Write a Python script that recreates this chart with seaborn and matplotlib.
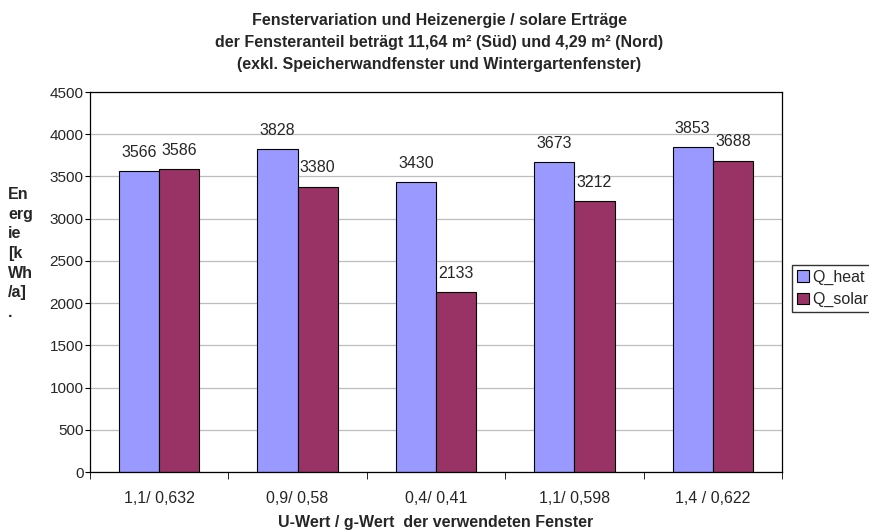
import matplotlib
matplotlib.use("Agg")
import matplotlib.pyplot as plt
import seaborn as sns
import pandas as pd

categories = ["1,1/ 0,632", "0,9/ 0,58", "0,4/ 0,41", "1,1/ 0,598", "1,4 / 0,622"]
q_heat = [3566, 3828, 3430, 3673, 3853]
q_solar = [3586, 3380, 2133, 3212, 3688]
series = ["Q_heat", "Q_solar"]
colors = ["#9999FF", "#993366"]

df = pd.DataFrame({
    "cat": categories * 2,
    "val": q_heat + q_solar,
    "series": [series[0]] * len(categories) + [series[1]] * len(categories),
})

sns.set_style("white")
plt.rcParams["font.family"] = ["Liberation Sans", "DejaVu Sans"]

fig = plt.figure(figsize=(8.7, 5.31), dpi=100)
L, R, T, B = 90, 782, 92, 472
ax = fig.add_axes([L / 870, 1 - B / 531, (R - L) / 870, (B - T) / 531])

sns.barplot(data=df, x="cat", y="val", hue="series", palette=colors,
            order=categories, hue_order=series, width=0.58,
            edgecolor="black", linewidth=0.8, ax=ax, legend=True, saturation=1)

for cont in ax.containers:
    ax.bar_label(cont, fmt="%d", padding=8, fontsize=11.5)

ax.set_ylim(0, 4500)
ax.set_yticks(range(0, 4501, 500))
ax.yaxis.grid(True, color="#BDBDBD", linewidth=0.9)
ax.set_axisbelow(True)
for s in ["top", "right", "left", "bottom"]:
    ax.spines[s].set_visible(True)
    ax.spines[s].set_color("black")
    ax.spines[s].set_linewidth(0.9)
ax.tick_params(axis="y", left=True, length=3.5, color="black", labelsize=11, pad=1)
ax.tick_params(axis="x", bottom=False, labelsize=11.5, pad=10)
ax.set_xticks([i - 0.5 for i in range(len(categories) + 1)], minor=True)
ax.tick_params(axis="x", which="minor", bottom=True, length=5, color="black")
ax.set_xlim(-0.5, len(categories) - 0.5)

ax.set_xlabel("U-Wert / g-Wert  der verwendeten Fenster", fontsize=11.5, fontweight="bold", labelpad=7)
ax.set_ylabel("En\nerg\nie\n[k\nWh\n/a]\n.", fontsize=11.5, fontweight="bold", rotation=0,
              ha="left", va="center", linespacing=1.38)
ax.yaxis.set_label_coords(-82 / (R - L), 0.575)

fig.text(0.505, 1 - 13 / 531, "Fenstervariation und Heizenergie / solare Erträge\n"
         "der Fensteranteil beträgt 11,64 m² (Süd) und 4,29 m² (Nord)\n"
         "(exkl. Speicherwandfenster und Wintergartenfenster)",
         ha="center", va="top", fontsize=11.5, fontweight="bold", linespacing=1.6)

ax.legend(loc="upper left", bbox_to_anchor=(792 / 870, 1 - 265 / 531), bbox_transform=fig.transFigure,
          fontsize=11.5, frameon=True, fancybox=False, edgecolor="black", handlelength=0.75,
          handleheight=0.75, handletextpad=0.2, borderpad=0.3, labelspacing=0.45, borderaxespad=0)

fig.savefig("out.png", dpi=100)
